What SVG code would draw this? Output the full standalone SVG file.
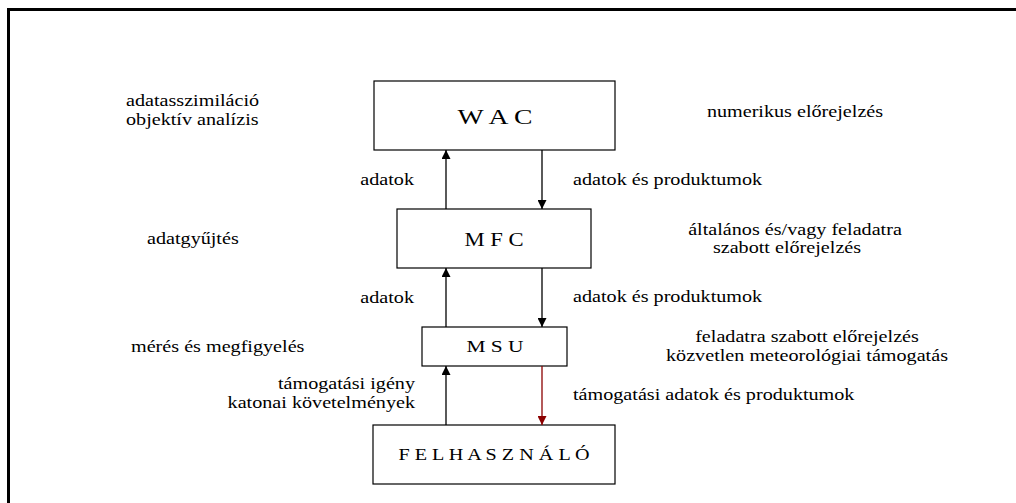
<svg xmlns="http://www.w3.org/2000/svg" width="1016" height="503" viewBox="0 0 1016 503">
  <style>
    .box { fill: #fff; stroke: #000; stroke-width: 1.2; }
    .t { font-family: 'Liberation Serif', 'DejaVu Serif', 'Times New Roman', Times, serif; font-size: 16px; fill: #000; }
    .node { font-family: 'Liberation Serif', 'DejaVu Serif', 'Times New Roman', Times, serif; fill: #000; text-anchor: middle; }
    .link { stroke: #000; stroke-width: 1.3; fill: none; marker-end: url(#head); }
    .link.red { stroke: #8b0000; marker-end: url(#headRed); }
  </style>
  <defs>
    <marker id="head" viewBox="0 0 9 9" refX="9" refY="4.5" markerWidth="9" markerHeight="9" markerUnits="userSpaceOnUse" orient="auto">
      <path d="M0,0 L9,4.5 L0,9 z" fill="#000"/>
    </marker>
    <marker id="headRed" viewBox="0 0 9 9" refX="9" refY="4.5" markerWidth="9" markerHeight="9" markerUnits="userSpaceOnUse" orient="auto">
      <path d="M0,0 L9,4.5 L0,9 z" fill="#8b0000"/>
    </marker>
  </defs>

  <rect x="0" y="0" width="1016" height="503" fill="#fff"/>
  <!-- frame: top and left edges only -->
  <path d="M8.5,503 V9.5 H1016" fill="none" stroke="#000" stroke-width="3"/>

  <g id="wac">
    <rect class="box" x="374" y="81" width="241" height="69"/>
    <text class="node" font-family="Liberation Serif, serif" font-size="22" transform="translate(495,124) scale(1.26,1)">W A C</text>
  </g>
  <g id="mfc">
    <rect class="box" x="397" y="209" width="194" height="59"/>
    <text class="node" font-size="18" transform="translate(494,246) scale(1.26,1)">M F C</text>
  </g>
  <g id="msu">
    <rect class="box" x="422" y="327" width="145" height="39"/>
    <text class="node" font-size="17" transform="translate(495,352) scale(1.26,1)">M S U</text>
  </g>
  <g id="felhasznalo">
    <rect class="box" x="373" y="425" width="242" height="59"/>
    <text class="node" font-size="16" transform="translate(494,460) scale(1.26,1)">F E L H A S Z N Á L Ó</text>
  </g>

  <g id="connectors">
    <line class="link" x1="446" y1="209" x2="446" y2="150"/>
    <line class="link" x1="542" y1="150" x2="542" y2="209"/>
    <line class="link" x1="446" y1="327" x2="446" y2="268"/>
    <line class="link" x1="542" y1="268" x2="542" y2="327"/>
    <line class="link" x1="446" y1="425" x2="446" y2="366"/>
    <line class="link red" x1="542" y1="366" x2="542" y2="425"/>
  </g>

  <g id="labels">
    <text class="t" transform="translate(126,106) scale(1.26,1)">adatasszimiláció</text>
    <text class="t" transform="translate(126,125) scale(1.26,1)">objektív analízis</text>
    <text class="t" transform="translate(147,244) scale(1.26,1)">adatgyűjtés</text>
    <text class="t" transform="translate(131,352) scale(1.26,1)">mérés és megfigyelés</text>
    <text class="t" text-anchor="end" transform="translate(415,389) scale(1.26,1)">támogatási igény</text>
    <text class="t" text-anchor="end" transform="translate(415,408) scale(1.26,1)">katonai követelmények</text>
    <text class="t" text-anchor="end" transform="translate(414,185) scale(1.26,1)">adatok</text>
    <text class="t" text-anchor="end" transform="translate(414,303) scale(1.26,1)">adatok</text>
    <text class="t" transform="translate(573,185) scale(1.26,1)">adatok és produktumok</text>
    <text class="t" transform="translate(573,302) scale(1.26,1)">adatok és produktumok</text>
    <text class="t" transform="translate(573,400) scale(1.26,1)">támogatási adatok és produktumok</text>
    <text class="t" text-anchor="middle" transform="translate(795,117) scale(1.26,1)">numerikus előrejelzés</text>
    <text class="t" text-anchor="middle" transform="translate(795,235) scale(1.26,1)">általános és/vagy feladatra</text>
    <text class="t" text-anchor="middle" transform="translate(787,253) scale(1.26,1)">szabott előrejelzés</text>
    <text class="t" text-anchor="middle" transform="translate(807,342) scale(1.26,1)">feladatra szabott előrejelzés</text>
    <text class="t" text-anchor="middle" transform="translate(807,361) scale(1.26,1)">közvetlen meteorológiai támogatás</text>
  </g>
</svg>
